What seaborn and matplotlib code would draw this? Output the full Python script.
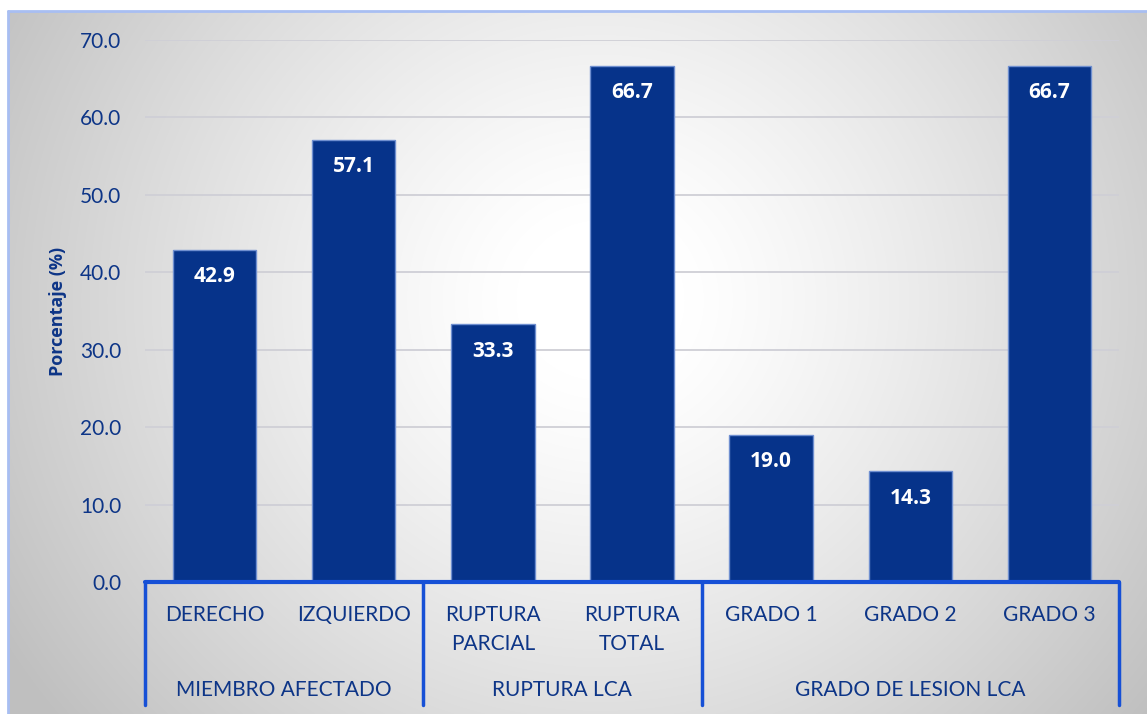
import numpy as np
import matplotlib
matplotlib.use("Agg")
import matplotlib.pyplot as plt
import seaborn as sns
import pandas as pd
from matplotlib.transforms import blended_transform_factory

# ---- data ----
categories = ["DERECHO", "IZQUIERDO", "RUPTURA\nPARCIAL", "RUPTURA\nTOTAL",
              "GRADO 1", "GRADO 2", "GRADO 3"]
values = [42.9, 57.1, 33.3, 66.7, 19.0, 14.3, 66.7]
groups = ["MIEMBRO AFECTADO", "RUPTURA LCA", "GRADO DE LESION LCA"]
group_sizes = [2, 2, 3]
yticks = [0, 10, 20, 30, 40, 50, 60, 70]
ylabel = "Porcentaje (%)"

sns.set_theme(style="white")
plt.rcParams['font.family'] = ['Lato', 'DejaVu Sans']
boldfam = ['Open Sans', 'DejaVu Sans']

W, H = 1147, 714
fig = plt.figure(figsize=(W / 100, H / 100), dpi=100)
fig.patch.set_facecolor("white")

# background radial gradient
bg = fig.add_axes([8 / W, 0, 1 - 8 / W, 1 - 11 / H])
bg.set_axis_off()
yy, xx = np.mgrid[11:H, 8:W]
r = np.sqrt((xx - 600.0) ** 2 + ((yy - 300.0) * 1.05) ** 2) / 700.0
r = np.clip((r - 0.12) / 0.88, 0, 1)
g = 1.0 - 0.25 * r ** 1.2
img = np.dstack([g, g, g])
bg.imshow(img, aspect="auto", extent=[0, 1, 0, 1], interpolation="bilinear")
bg.set_xlim(0, 1)
bg.set_ylim(0, 1)
# light blue border (top and left)
fig.add_artist(plt.Line2D([8 / W, 8 / W], [0, 1 - 11 / H], color="#A8BEF2", lw=2))
fig.add_artist(plt.Line2D([8 / W, 1], [1 - 11 / H, 1 - 11 / H], color="#A8BEF2", lw=2))

# main axes
x0, x1, y0, y1 = 145, 1119, 582, 40
ax = fig.add_axes([x0 / W, 1 - y0 / H, (x1 - x0) / W, (y0 - y1) / H])
ax.set_facecolor("none")

df = pd.DataFrame({"cat": categories, "val": values})
sns.barplot(data=df, x="cat", y="val", order=categories, color="#06338A",
            saturation=1, width=0.6, edgecolor="#6F8FD0", linewidth=1, ax=ax)

ax.set_xlim(-0.5, len(categories) - 0.5)
ax.set_ylim(0, 70)
ax.set_yticks(yticks)
ax.set_yticklabels([f"{t:.1f}" for t in yticks], fontsize=15, color="#0D3587")
ax.tick_params(axis="y", length=0, pad=17)
ax.set_xticks([])
ax.set_xlabel("")
ax.set_ylabel(ylabel, fontsize=13, fontweight="bold", color="#0D3587",
              family=boldfam)
ax.yaxis.set_label_coords(-0.08, 0.5)
for s in ax.spines.values():
    s.set_visible(False)
ax.yaxis.grid(True, color="#CFCFD6", lw=1.3)
ax.set_axisbelow(True)

# value labels
for i, v in enumerate(values):
    ax.annotate(f"{v:.1f}", (i, v), xytext=(0, -19.5), textcoords="offset points",
                ha="center", va="center", color="white", fontsize=15,
                fontweight="bold", family=boldfam)

# axis line & category labels
blue = "#1650D6"
ax.axhline(0, color=blue, lw=3, zorder=5, clip_on=False)
tr = blended_transform_factory(ax.transData, ax.transAxes)
for i, c in enumerate(categories):
    ax.text(i, -0.043, c, transform=tr, ha="center", va="top", fontsize=15,
            color="#0D3587", linespacing=1.55, multialignment="center")

# group labels and separators
start = -0.5
bottom = -(705 - 582) / (582 - 40)
ax.plot([start, start], [0, bottom], transform=tr, color=blue, lw=2.5, clip_on=False)
for gname, n in zip(groups, group_sizes):
    end = start + n
    ax.text((start + end) / 2, -0.199, gname, transform=tr, ha="center",
            va="center", fontsize=15, color="#0D3587")
    ax.plot([end, end], [0, bottom], transform=tr, color=blue, lw=2.5, clip_on=False)
    start = end

fig.savefig("out.png", dpi=100)
